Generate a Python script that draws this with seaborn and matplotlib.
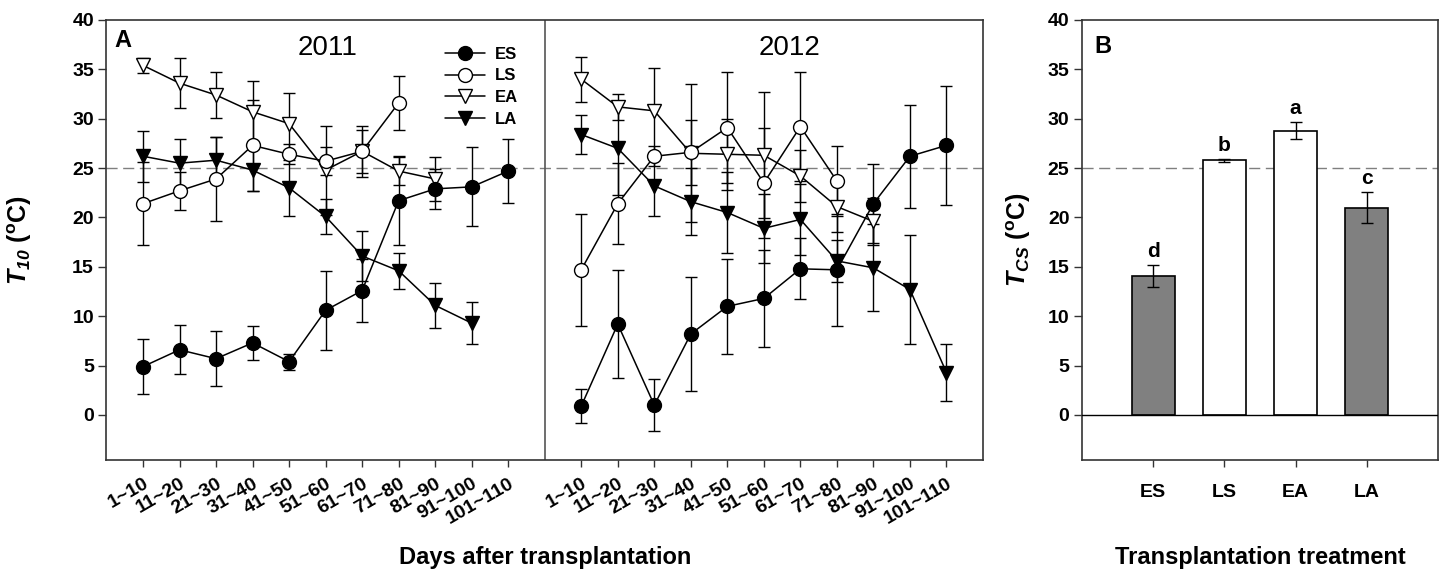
import numpy as np
import pandas as pd
import matplotlib
matplotlib.use("Agg")
import matplotlib.pyplot as plt
from matplotlib.lines import Line2D
import seaborn as sns

# ---------------- data ----------------
categories = ['1~10', '11~20', '21~30', '31~40', '41~50', '51~60',
              '61~70', '71~80', '81~90', '91~100', '101~110']

es_2011 = [4.9, 6.6, 5.7, 7.3, 5.4, 10.6, 12.6, 21.7, 22.9, 23.1, 24.7]
es_2011_err = [2.8, 2.5, 2.8, 1.7, 0.8, 4.0, 3.2, 4.5, 2.0, 4.0, 3.2]
ls_2011 = [21.4, 22.7, 23.9, 27.3, 26.4, 25.7, 26.7, 31.6]
ls_2011_err = [4.2, 1.9, 4.3, 4.6, 1.0, 1.4, 2.6, 2.7]
ea_2011 = [35.4, 33.6, 32.4, 30.7, 29.5, 24.8, 26.7, 24.7, 23.9]
ea_2011_err = [0.8, 2.5, 2.3, 3.1, 3.1, 4.5, 2.2, 1.4, 2.2]
la_2011 = [26.2, 25.5, 25.8, 24.8, 23.0, 20.1, 16.1, 14.6, 11.1, 9.3]
la_2011_err = [2.6, 2.4, 2.3, 2.1, 2.8, 1.8, 2.5, 1.8, 2.3, 2.1]

es_2012 = [0.9, 9.2, 1.0, 8.2, 11.0, 11.8, 14.8, 14.7, 21.4, 26.2, 27.3]
es_2012_err = [1.7, 5.5, 2.6, 5.8, 4.8, 4.9, 3.1, 5.7, 4.0, 5.2, 6.0]
ls_2012 = [14.7, 21.4, 26.2, 26.6, 29.1, 23.5, 29.2, 23.7]
ls_2012_err = [5.7, 4.1, 1.0, 3.3, 5.6, 5.6, 5.5, 3.5]
ea_2012 = [34.0, 31.2, 30.8, 26.5, 26.4, 26.3, 24.2, 21.1, 19.6]
ea_2012_err = [2.3, 1.3, 4.3, 7.0, 3.6, 6.4, 2.6, 2.6, 2.4]
la_2012 = [28.4, 27.0, 23.2, 21.6, 20.5, 18.9, 19.8, 15.6, 14.9, 12.7, 4.3]
la_2012_err = [2.0, 4.7, 3.0, 3.4, 4.1, 3.5, 3.6, 2.1, 4.4, 5.5, 2.9]

treatments = ['ES', 'LS', 'EA', 'LA']
tcs = [14.1, 25.8, 28.8, 21.0]
tcs_err = [1.1, 0.15, 0.9, 1.6]
letters = ['d', 'b', 'a', 'c']
years = ['2011', '2012']
reference_temp = 25

# ---------------- style ----------------
sns.set_style("ticks")
plt.rcParams['font.family'] = ['Liberation Sans', 'DejaVu Sans']
plt.rcParams['mathtext.fontset'] = 'custom'
plt.rcParams['mathtext.rm'] = 'Liberation Sans'
plt.rcParams['mathtext.it'] = 'Liberation Sans:italic'
plt.rcParams['mathtext.bf'] = 'Liberation Sans:bold'
plt.rcParams['mathtext.bfit'] = 'Liberation Sans:bold:italic'
for key in ['text.color', 'axes.labelcolor', 'xtick.color', 'ytick.color']:
    plt.rcParams[key] = 'black'

fig = plt.figure(figsize=(14.43, 5.71), dpi=100)
axA = fig.add_axes([0.0738, 0.1944, 0.6074, 0.7706])
axB = fig.add_axes([0.7498, 0.1944, 0.2467, 0.7706])

styles = {
    'ES': dict(marker='o', mfc='black'),
    'LS': dict(marker='o', mfc='white'),
    'EA': dict(marker='v', mfc='white'),
    'LA': dict(marker='v', mfc='black'),
}
series = {
    '2011': {'ES': (es_2011, es_2011_err), 'LS': (ls_2011, ls_2011_err),
             'EA': (ea_2011, ea_2011_err), 'LA': (la_2011, la_2011_err)},
    '2012': {'ES': (es_2012, es_2012_err), 'LS': (ls_2012, ls_2012_err),
             'EA': (ea_2012, ea_2012_err), 'LA': (la_2012, la_2012_err)},
}
n_cat = len(categories)
ms = 10
for yi, yr in enumerate(years):
    offset = 1 + yi * (n_cat + 1)
    for name in ['EA', 'LS', 'LA', 'ES']:
        vals, errs = series[yr][name]
        x = np.arange(len(vals)) + offset
        axA.errorbar(x, vals, yerr=errs, fmt='none', ecolor='black',
                     elinewidth=1.0, capsize=4.5, capthick=1.0, zorder=2)
    for name in ['EA', 'LS', 'LA', 'ES']:
        vals, errs = series[yr][name]
        x = np.arange(len(vals)) + offset
        df = pd.DataFrame({'x': x, 'y': vals})
        sns.lineplot(data=df, x='x', y='y', ax=axA, color='black',
                     marker=styles[name]['marker'], markersize=ms,
                     markerfacecolor=styles[name]['mfc'], markeredgecolor='black',
                     markeredgewidth=1.0, linewidth=1.1, estimator=None,
                     sort=False, legend=False, zorder=3)

axA.axhline(reference_temp, color='#7f7f7f', lw=1.0, ls=(0, (8, 4)), zorder=1)
axA.axvline(n_cat + 1, color='#555555', lw=1.2, zorder=1)
axA.set_xlim(0, 2 * n_cat + 2)
axA.set_ylim(-4.56, 40)
axA.set_yticks(np.arange(0, 41, 5))
xt = list(np.arange(1, n_cat + 1)) + list(np.arange(n_cat + 2, 2 * n_cat + 2))
axA.set_xticks(xt)
axA.set_xticklabels(categories * 2, rotation=30, ha='right', rotation_mode='anchor',
                    fontsize=14, fontweight='bold')
for lab in axA.get_yticklabels():
    lab.set_fontweight('bold')
    lab.set_fontsize(14)
axA.tick_params(axis='y', direction='out', length=6, width=1, pad=3, color='#333333')
axA.tick_params(axis='x', direction='out', length=5, width=1, pad=6, color='#333333')
for sp in axA.spines.values():
    sp.set_visible(True)
    sp.set_linewidth(1.2)
    sp.set_color('#333333')

axA.text(6.05, 37.2, '2011', fontsize=20, ha='center', va='center')
axA.text(18.7, 37.2, '2012', fontsize=20, ha='center', va='center')
axA.text(0.23, 39.1, 'A', fontsize=17, fontweight='bold', ha='left', va='top')

handles = [Line2D([], [], color='black', lw=1.1, marker=styles[n]['marker'],
                  markersize=ms, markerfacecolor=styles[n]['mfc'],
                  markeredgecolor='black') for n in treatments]
axA.legend(handles, treatments, loc='upper left', bbox_to_anchor=(0.375, 0.962),
           frameon=False, handlelength=2.4, handletextpad=0.6, labelspacing=0.4,
           prop={'weight': 'bold', 'size': 12}, borderaxespad=0.2)

axA.set_xlabel('Days after transplantation', fontsize=17, fontweight='bold')
axA.xaxis.set_label_coords(0.5, -0.195)
axA.set_ylabel(r'$\mathbfit{T}_{\mathbfit{10}}\ \mathbf{(}^{\mathbf{o}}\mathbf{C)}$', fontsize=18)
axA.yaxis.set_label_coords(-0.083, 0.5)

# ---------------- panel B ----------------
dfb = pd.DataFrame({'treatment': treatments, 'tcs': tcs})
bar_colors = ['#808080', 'white', 'white', '#808080']
sns.barplot(data=dfb, x='treatment', y='tcs', ax=axB, order=treatments,
            palette=bar_colors, hue='treatment', legend=False, width=0.6,
            edgecolor='black', linewidth=1.2, errorbar=None, saturation=1, zorder=2)
axB.errorbar(np.arange(len(treatments)), tcs, yerr=tcs_err, fmt='none', ecolor='black',
             elinewidth=1.0, capsize=4.5, capthick=1.0, zorder=3)
for i, (v, e, l) in enumerate(zip(tcs, tcs_err, letters)):
    axB.text(i, v + e + 0.4, l, ha='center', va='bottom', fontsize=15, fontweight='bold')
axB.axhline(0, color='black', lw=1.0, zorder=3)
axB.axhline(reference_temp, color='#7f7f7f', lw=1.0, ls=(0, (8, 4)), zorder=1)
axB.set_xlim(-1, len(treatments))
axB.set_ylim(-4.56, 40)
axB.set_yticks(np.arange(0, 41, 5))
for lab in axB.get_yticklabels() + axB.get_xticklabels():
    lab.set_fontweight('bold')
    lab.set_fontsize(14)
axB.tick_params(axis='y', direction='out', length=6, width=1, pad=3, color='#333333')
axB.tick_params(axis='x', direction='out', length=5, width=1, pad=12, color='#333333')
for sp in axB.spines.values():
    sp.set_visible(True)
    sp.set_linewidth(1.2)
    sp.set_color('#333333')
axB.text(0.035, 0.965, 'B', transform=axB.transAxes, fontsize=17, fontweight='bold',
         ha='left', va='top')
axB.set_xlabel('Transplantation treatment', fontsize=17, fontweight='bold')
axB.xaxis.set_label_coords(0.5, -0.195)
axB.set_ylabel(r'$\mathbfit{T}_{\mathbfit{CS}}\ \mathbf{(}^{\mathbf{o}}\mathbf{C)}$', fontsize=18)
axB.yaxis.set_label_coords(-0.138, 0.5)

fig.savefig('out.png', dpi=100)
